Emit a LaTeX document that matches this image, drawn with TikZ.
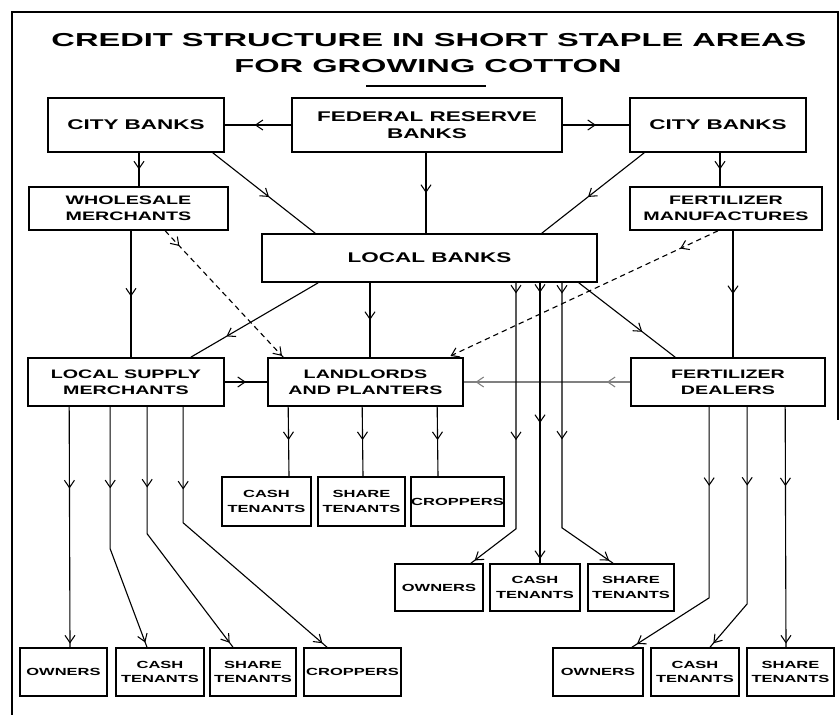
\documentclass[tikz,border=0pt]{standalone}
\usepackage{fontspec}
\setmainfont{Liberation Sans}
\newfontfamily\widefont{Liberation Sans}[FakeStretch=1.6]
\newfontfamily\titlefont{Liberation Sans}[FakeStretch=1.74]
\usetikzlibrary{arrows.meta,calc,decorations.markings}

\tikzset{
	barb/.tip={Straight Barb[length=2.2mm,width=3mm,line width=0.9pt]},
	arr/.style={postaction={decorate,decoration={markings,mark=at position #1 with {\arrow{barb}}}}},
	link/.style={line width=0.95pt},
	box/.style={draw,line width=1.4pt,align=center,inner sep=0pt,font=\widefont\bfseries\fontsize{12}{15}\selectfont},
	sz/.style 2 args={minimum width=#1*0.3mm,minimum height=#2*0.3mm},
	midtext/.style={font=\widefont\bfseries\fontsize{10.5}{13.5}\selectfont},
	smalltext/.style={font=\widefont\bfseries\fontsize{8.8}{12.5}\selectfont},
}

\begin{document}
\begin{tikzpicture}[x=0.3mm,y=-0.3mm]
		\useasboundingbox (0,0) rectangle (840,715);
		\draw[line width=1.1pt] (12,715) -- (12,12) -- (838,12) -- (838,420);
		\node[font=\titlefont\bfseries\fontsize{16}{18}\selectfont] (title) at (429,40) {CREDIT STRUCTURE IN SHORT STAPLE AREAS};
		\node[font=\titlefont\bfseries\fontsize{16}{18}\selectfont] (subtitle) at (428,66) {FOR GROWING COTTON};
		\draw[line width=1pt] (366,86) -- (486,86);

		\node[box,sz={176}{54}] (cityL) at (136,125) {CITY BANKS};
		\node[box,sz={270}{54}] (fed) at (427,125) {FEDERAL RESERVE\\BANKS};
		\node[box,sz={176}{54}] (cityR) at (718,125) {CITY BANKS};
		\node[box,midtext,sz={199}{43}] (whole) at (128.5,208.5) {WHOLESALE\\MERCHANTS};
		\node[box,midtext,sz={192}{43}] (fertman) at (726,208.5) {FERTILIZER\\MANUFACTURES};
		\node[box,sz={335}{48}] (local) at (429.5,258) {LOCAL BANKS};
		\node[box,midtext,sz={196}{48}] (supply) at (126,382) {LOCAL SUPPLY\\MERCHANTS};
		\node[box,midtext,sz={195}{48}] (land) at (365.5,382) {LANDLORDS\\AND PLANTERS};
		\node[box,midtext,sz={194}{48}] (fdeal) at (728,382) {FERTILIZER\\DEALERS};

		\node[box,smalltext,sz={89}{49}] (lcash) at (266.5,501.5) {CASH\\TENANTS};
		\node[box,smalltext,sz={87}{49}] (lshare) at (361.5,501.5) {SHARE\\TENANTS};
		\node[box,smalltext,sz={91}{49}] (lcrop) at (457.5,501.5) {CROPPERS};
		\node[box,smalltext,sz={88}{47}] (mown) at (439,587.5) {OWNERS};
		\node[box,smalltext,sz={90}{47}] (mcash) at (535,587.5) {CASH\\TENANTS};
		\node[box,smalltext,sz={86}{47}] (mshare) at (631,587.5) {SHARE\\TENANTS};
		\node[box,smalltext,sz={87}{48}] (bown1) at (63.5,672) {OWNERS};
		\node[box,smalltext,sz={88}{48}] (bcash1) at (160,672) {CASH\\TENANTS};
		\node[box,smalltext,sz={86}{48}] (bshare1) at (253,672) {SHARE\\TENANTS};
		\node[box,smalltext,sz={97}{48}] (bcrop1) at (352.5,672) {CROPPERS};
		\node[box,smalltext,sz={90}{48}] (bown2) at (598,672) {OWNERS};
		\node[box,smalltext,sz={88}{48}] (bcash2) at (695,672) {CASH\\TENANTS};
		\node[box,smalltext,sz={87}{48}] (bshare2) at (790.5,672) {SHARE\\TENANTS};

		\draw[link,arr=0.55] (fed.west) -- (cityL.east);
		\draw[link,arr=0.5] (fed.east) -- (cityR.west);
		\draw[link,arr=0.5] ($(cityL.south)+(3,0)$) -- ($(whole.north)+(10.5,0)$);
		\draw[link,arr=0.55] ($(cityL.south east)+(-12,0)$) -- ($(local.north west)+(54,0)$);
		\draw[link,arr=0.5] ($(fed.south)+(-1,0)$) -- ($(local.north)+(-3.5,0)$);
		\draw[link,arr=0.55] ($(cityR.south west)+(15,0)$) -- ($(local.north east)+(-56,0)$);
		\draw[link,arr=0.5] ($(cityR.south)+(2,0)$) -- ($(fertman.north)+(-6,0)$);
		\draw[link,arr=0.52] ($(whole.south)+(2.5,0)$) -- ($(supply.north)+(5,0)$);
		\draw[link,arr=0.5] ($(fertman.south)+(7,0)$) -- ($(fdeal.north)+(5,0)$);
		\draw[link,dash pattern=on 1.6mm off 1.2mm,arr=0.12,arr=0.99] ($(whole.south west)+(137,0)$) -- ($(land.north west)+(16,0)$);
		\draw[link,dash pattern=on 1.6mm off 1.2mm,arr=0.14,arr=0.99] ($(fertman.south)+(-8,0)$) -- ($(land.north east)+(-16,0)$);
		\draw[link,arr=0.72] ($(local.south west)+(57,0)$) -- ($(supply.north east)+(-34,0)$);
		\draw[link,arr=0.5] ($(local.south)+(-59.5,0)$) -- ($(land.north)+(4.5,0)$);
		\draw[link,arr=0.66] ($(local.south east)+(-19,0)$) -- ($(fdeal.north west)+(45,0)$);
		\draw[link,arr=0.5] (supply.east) -- (land.west);
		\draw[link,gray,arr=0.14,arr=0.93] (fdeal.west) -- (land.east);

		\draw[link,arr=0.035,arr=0.52,arr=0.985] ($(local.south)+(86.5,0)$) -- ++(0,246) -- ($(mown.north)+(32,0)$);
		\draw[link,arr=0.035,arr=0.5,arr=0.985] ($(local.south)+(110.5,0)$) -- ($(mcash.north)+(5,0)$);
		\draw[link,arr=0.035,arr=0.51,arr=0.985] ($(local.south)+(132.5,0)$) -- ++(0,245) -- ($(mshare.north)+(-18,0)$);

		\foreach \dx/\t/\ex in {21/lcash/22.5,95/lshare/1.5,170/lcrop/-19.5}
			\draw[link,arr=0.48] ($(land.south west)+(\dx,0)$) -- ($(\t.north)+(\ex,0)$);

		\draw[link,arr=0.34,arr=0.985] ($(supply.south west)+(42,0)$) -- ($(bown1.north)+(6.5,0)$);
		\draw[link,arr=0.33,arr=0.98] ($(supply.south west)+(83,0)$) -- ++(0,142) -- ($(bcash1.north)+(-13,0)$);
		\draw[link,arr=0.3,arr=0.98] ($(supply.south west)+(120,0)$) -- ++(0,127) -- ($(bshare1.north)+(-20,0)$);
		\draw[link,arr=0.27,arr=0.98] ($(supply.south west)+(156,0)$) -- ++(0,116) -- ($(bcrop1.north)+(-25.5,0)$);

		\draw[link,arr=0.28,arr=0.98] ($(fdeal.south west)+(79,0)$) -- ++(0,191) -- ($(bown2.north)+(34,0)$);
		\draw[link,arr=0.31,arr=0.98] ($(fdeal.south west)+(117,0)$) -- ++(0,197) -- ($(bcash2.north)+(15,0)$);
		\draw[link,arr=0.33,arr=0.985] ($(fdeal.south west)+(155,0)$) -- ($(bshare2.north)+(-4.5,0)$);
	\end{tikzpicture}
\end{document}
